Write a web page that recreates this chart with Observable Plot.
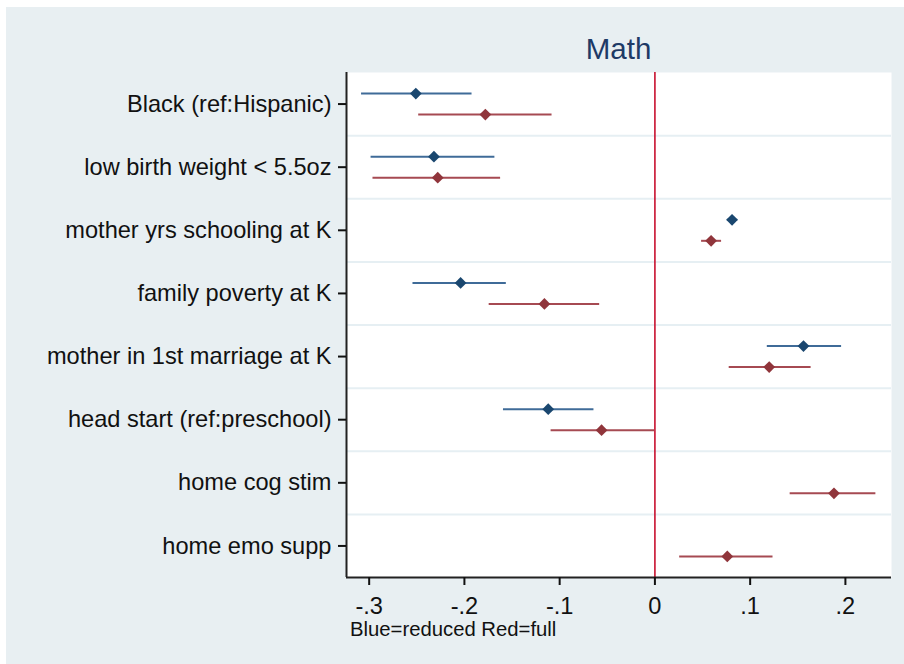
<!DOCTYPE html>
<html>
<head>
<meta charset="utf-8">
<script src="https://cdn.jsdelivr.net/npm/d3@7"></script>
<script src="https://cdn.jsdelivr.net/npm/@observablehq/plot@0.6"></script>
<style>
  html, body { margin: 0; padding: 0; background: #ffffff; }
  body { width: 904px; height: 664px; position: relative; overflow: hidden; font-family: "Liberation Sans", Arial, sans-serif; }
  #region { position: absolute; left: 6px; top: 7px; width: 898px; height: 657px; background: #e8eff2; }
  #title { position: absolute; left: 340px; width: 545px; top: 26px; text-align: center; font-size: 29.5px; color: #1e3a66; line-height: 32px; }
  #chart { position: absolute; left: 0px; top: 55px; }
  #caption { position: absolute; left: 344px; top: 611px; font-size: 20.3px; color: #111; line-height: 23px; }
</style>
</head>
<body>
<div id="region">
  <div id="title">Math</div>
  <div id="chart"></div>
  <div id="caption">Blue=reduced Red=full</div>
</div>
<script>
const categories = [
  "Black (ref:Hispanic)",
  "low birth weight < 5.5oz",
  "mother yrs schooling at K",
  "family poverty at K",
  "mother in 1st marriage at K",
  "head start (ref:preschool)",
  "home cog stim",
  "home emo supp"
];
// reduced model (blue)
const reducedEst = [-0.251, -0.232, 0.081, -0.204, 0.156, -0.112, null, null];
const reducedLo  = [-0.308, -0.298, 0.076, -0.254, 0.118, -0.159, null, null];
const reducedHi  = [-0.192, -0.168, 0.087, -0.156, 0.196, -0.064, null, null];
// full model (red)
const fullEst = [-0.178, -0.228, 0.059, -0.116, 0.120, -0.056, 0.188, 0.076];
const fullLo  = [-0.248, -0.296, 0.049, -0.174, 0.078, -0.109, 0.142, 0.026];
const fullHi  = [-0.108, -0.162, 0.070, -0.058, 0.164, 0.000, 0.232, 0.124];

const xTicks = [-0.3, -0.2, -0.1, 0, 0.1, 0.2];
const xDomain = [-0.3238, 0.2484];

const fmt = d => d === 0 ? "0" : (d < 0 ? "-" : "") + "." + Math.round(Math.abs(d) * 10);

const reduced = categories.map((c, i) => ({i, est: reducedEst[i], lo: reducedLo[i], hi: reducedHi[i]})).filter(d => d.est != null);
const full = categories.map((c, i) => ({i, est: fullEst[i], lo: fullLo[i], hi: fullHi[i]})).filter(d => d.est != null);
const boundaries = categories.slice(1).map((c, i) => i + 0.5);
const yDomain = [-0.5, categories.length - 0.5];

const blueDot = "#1a476f", blueLine = "#3f6b98";
const redDot = "#90353b", redLine = "#a64a52";
const off = 10.5;

const plot = Plot.plot({
  width: 898,
  height: 560,
  marginLeft: 340,
  marginRight: 13,
  marginTop: 10,
  marginBottom: 45,
  style: {fontFamily: "'Liberation Sans', Arial, sans-serif", color: "#111", background: "transparent"},
  x: {domain: xDomain},
  y: {domain: yDomain, reverse: true},
  marks: [
    Plot.frame({fill: "white", stroke: "none"}),
    Plot.ruleY(boundaries, {stroke: "#e6eff3", strokeWidth: 2}),
    Plot.ruleX([0], {stroke: "#c8102e", strokeWidth: 1.6}),
    Plot.ruleY(reduced, {y: "i", x1: "lo", x2: "hi", dy: -off, stroke: blueLine, strokeWidth: 2}),
    Plot.ruleY(full, {y: "i", x1: "lo", x2: "hi", dy: off, stroke: redLine, strokeWidth: 2}),
    Plot.dot(reduced, {x: "est", y: "i", dy: -off, symbol: "diamond2", r: 5.3, fill: blueDot, stroke: "none"}),
    Plot.dot(full, {x: "est", y: "i", dy: off, symbol: "diamond2", r: 5.3, fill: redDot, stroke: "none"}),
    Plot.ruleX([xDomain[0]], {stroke: "#222", strokeWidth: 2}),
    Plot.ruleY([yDomain[1]], {stroke: "#222", strokeWidth: 2}),
    Plot.axisY(d3.range(categories.length), {tickFormat: i => categories[i], tickSize: 8, tickPadding: 7, fontSize: 23.6, strokeWidth: 2, label: null}),
    Plot.axisX(xTicks, {tickFormat: fmt, tickSize: 8, tickPadding: 12, fontSize: 23.6, strokeWidth: 2, label: null})
  ]
});
document.getElementById("chart").appendChild(plot);
</script>
</body>
</html>
